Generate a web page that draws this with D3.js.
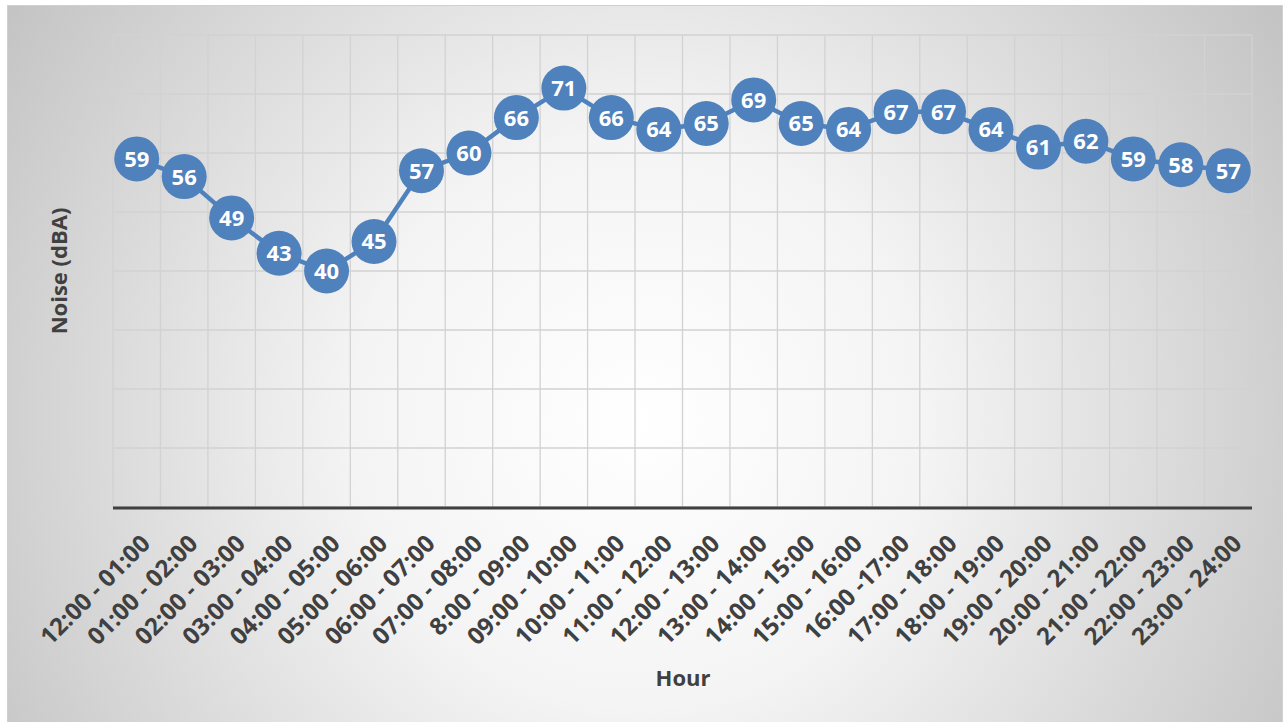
<!DOCTYPE html>
<html><head><meta charset="utf-8">
<script src="https://cdn.jsdelivr.net/npm/d3@7"></script>
<style>body{margin:0;background:#fff;}svg{display:block;}</style>
</head><body>
<svg id="c" width="1284" height="722"></svg>
<script>
const categories = ["12:00 - 01:00","01:00 - 02:00","02:00 - 03:00","03:00 - 04:00","04:00 - 05:00","05:00 - 06:00","06:00 - 07:00","07:00 - 08:00","8:00 - 09:00","09:00 - 10:00","10:00 - 11:00","11:00 - 12:00","12:00 - 13:00","13:00 - 14:00","14:00 - 15:00","15:00 - 16:00","16:00 -17:00","17:00 - 18:00","18:00 - 19:00","19:00 - 20:00","20:00 - 21:00","21:00 - 22:00","22:00 - 23:00","23:00 - 24:00"];
const noise = [59,56,49,43,40,45,57,60,66,71,66,64,65,69,65,64,67,67,64,61,62,59,58,57];
const yTicks = [0,10,20,30,40,50,60,70,80];

const svg = d3.select("#c");
const defs = svg.append("defs");
const rg = defs.append("radialGradient").attr("id","bg").attr("gradientUnits","userSpaceOnUse")
  .attr("cx",640).attr("cy",420).attr("r",820);
rg.append("stop").attr("offset","0%").attr("stop-color","#ffffff");
rg.append("stop").attr("offset","35%").attr("stop-color","#f4f4f4");
rg.append("stop").attr("offset","100%").attr("stop-color","#bdbdbd");

svg.append("rect").attr("x",7.5).attr("y",5.5).attr("width",1275).attr("height",720)
  .attr("fill","url(#bg)").attr("stroke","#d0d0d0");

const m = {l:113, r:1252, t:35, b:507};
const x = d3.scaleBand().domain(categories).range([m.l, m.r]);
const y = d3.scaleLinear().domain([0,80]).range([m.b, m.t]);
const font = "'Open Sans', sans-serif";

const g = svg.append("g");
g.selectAll(".hg").data(yTicks).join("line")
  .attr("x1",m.l).attr("x2",m.r).attr("y1",d=>y(d)).attr("y2",d=>y(d))
  .attr("stroke","#d2d2d2").attr("stroke-width",1.3);
const bounds = categories.map(c=>x(c)).concat([m.r]);
g.selectAll(".vg").data(bounds).join("line")
  .attr("x1",d=>d).attr("x2",d=>d).attr("y1",m.t).attr("y2",m.b)
  .attr("stroke","#d2d2d2").attr("stroke-width",1.3);

// x axis
const xAxis = d3.axisBottom(x).tickSize(0).tickPadding(0);
const ax = svg.append("g").attr("transform",`translate(0,${m.b})`).call(xAxis);
ax.select(".domain").remove();
svg.append("line").attr("x1",m.l).attr("x2",m.r).attr("y1",m.b+1).attr("y2",m.b+1)
  .attr("stroke","#404040").attr("stroke-width",3);
ax.selectAll(".tick text")
  .attr("font-family",font).attr("font-weight","bold").attr("font-size",24)
  .attr("fill","#404040").attr("text-anchor","end").attr("dy",0).attr("y",0)
  .attr("transform","translate(15,38) rotate(-45)");

// line
const line = d3.line().x((d,i)=>x(categories[i])+x.bandwidth()/2).y(d=>y(d));
svg.append("path").datum(noise).attr("d",line).attr("fill","none")
  .attr("stroke","#4f81bd").attr("stroke-width",4.5).attr("stroke-linejoin","round");

const pts = svg.append("g").selectAll("g").data(noise).join("g")
  .attr("transform",(d,i)=>`translate(${x(categories[i])+x.bandwidth()/2},${y(d)})`);
pts.append("circle").attr("r",22.5).attr("fill","#4f81bd");
pts.append("text").text(d=>d).attr("text-anchor","middle").attr("dy","0.36em")
  .attr("font-family",font).attr("font-weight","bold").attr("font-size",22)
  .attr("fill","#ffffff");

// axis titles
svg.append("text").text("Hour").attr("x",683).attr("y",686).attr("text-anchor","middle")
  .attr("font-family",font).attr("font-weight","bold").attr("font-size",22).attr("fill","#404040");
svg.append("text").text("Noise (dBA)").attr("transform","translate(67,271) rotate(-90)").attr("text-anchor","middle")
  .attr("font-family",font).attr("font-weight","bold").attr("font-size",22).attr("fill","#404040");
</script>
</body></html>
